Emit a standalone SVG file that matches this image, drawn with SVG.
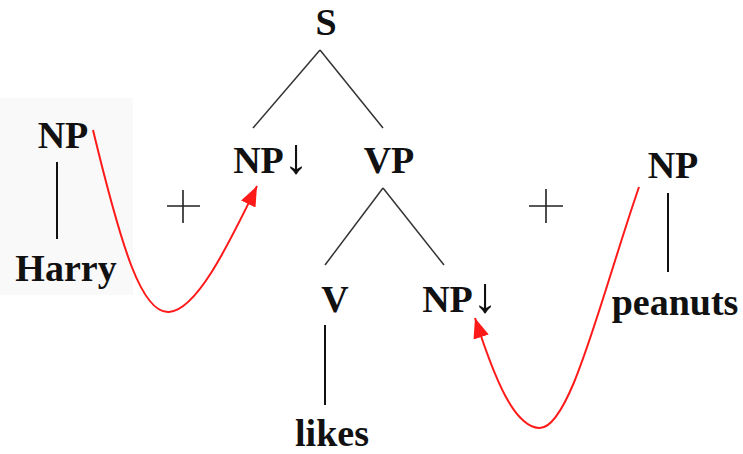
<svg xmlns="http://www.w3.org/2000/svg" width="743" height="454" viewBox="0 0 743 454">
<style>
.lbl{font-family:"Liberation Serif","Times New Roman",serif;font-weight:bold;font-size:38px;fill:#111;text-anchor:middle}
.arr{font-weight:normal;font-size:50px}
.edge{stroke:#333;stroke-width:1.5;fill:none}
.stem{stroke:#111;stroke-width:2;fill:none}
.plus{stroke:#222;stroke-width:1.6;fill:none}
.sub{stroke:#ff1a1a;stroke-width:2;fill:none;marker-end:url(#head)}
</style>
<defs>
<marker id="head" viewBox="0 0 20 16" refX="20" refY="8" markerWidth="20" markerHeight="16" markerUnits="userSpaceOnUse" orient="auto">
<path d="M0,0 L20,8 L0,16 z" fill="#ff1a1a"/>
</marker>
</defs>
<rect x="0" y="98" width="133" height="197" fill="#f9f9f9"/>
<g id="connectors">
<line class="edge" x1="320" y1="50" x2="253" y2="128"/>
<line class="edge" x1="320" y1="50" x2="383" y2="128"/>
<line class="edge" x1="383" y1="188" x2="325" y2="265"/>
<line class="edge" x1="383" y1="188" x2="444" y2="265"/>
<line class="stem" x1="57" y1="162" x2="57" y2="239"/>
<line class="stem" x1="325" y1="325" x2="325" y2="405"/>
<line class="stem" x1="668" y1="193" x2="668" y2="272"/>
<path class="sub" d="M93,130 C122,250 142,314 169,312 C196,310 226,250 257,186"/>
<path class="sub" d="M639,187 C600,300 570,430 539,428 C514,426 495,380 475,318"/>
</g>
<g id="plus1"><path class="plus" d="M167,206 H200 M183,190 V223"/></g>
<g id="plus2"><path class="plus" d="M529,206 H563 M546,189 V223"/></g>
<g id="n-S"><text class="lbl" x="326" y="35">S</text></g>
<g id="n-NP-harry"><text class="lbl" x="63" y="148">NP</text></g>
<g id="n-Harry"><text class="lbl" x="66" y="281">Harry</text></g>
<g id="n-NP-subj"><text class="lbl" x="271" y="173">NP<tspan class="arr">↓</tspan></text></g>
<g id="n-VP"><text class="lbl" x="389" y="173">VP</text></g>
<g id="n-V"><text class="lbl" x="335" y="312">V</text></g>
<g id="n-likes"><text class="lbl" x="332" y="446">likes</text></g>
<g id="n-NP-obj"><text class="lbl" x="460" y="312">NP<tspan class="arr">↓</tspan></text></g>
<g id="n-NP-peanuts"><text class="lbl" x="673" y="178">NP</text></g>
<g id="n-peanuts"><text class="lbl" x="675" y="315">peanuts</text></g>
</svg>
